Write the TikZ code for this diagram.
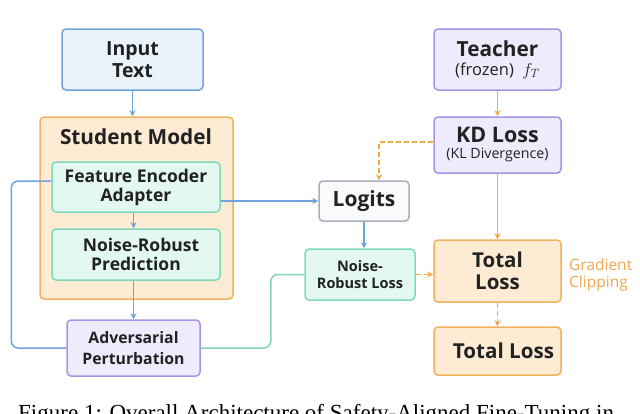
\documentclass[tikz,border=0pt]{standalone}
\usepackage{fontspec}
\setmainfont{Open Sans}
\newfontfamily\capfont{Liberation Serif}
\usetikzlibrary{arrows.meta,calc}
\definecolor{txt}{HTML}{222222}
\definecolor{bluebd}{HTML}{6FA3DC}
\definecolor{bluefl}{HTML}{EAF2FC}
\definecolor{orgbd}{HTML}{F0B25E}
\definecolor{orgfl}{HTML}{FDEBD3}
\definecolor{tealbd}{HTML}{80D9B8}
\definecolor{tealfl}{HTML}{E2F8F0}
\definecolor{purbd}{HTML}{A893E6}
\definecolor{purfl}{HTML}{EFEBFC}
\definecolor{graybd}{HTML}{A8AEBA}
\definecolor{grayfl}{HTML}{F9FAFC}
\definecolor{greenln}{HTML}{80D6B2}
\definecolor{orgln}{HTML}{F0A848}
\definecolor{orgtxt}{HTML}{EFA850}
\tikzset{
  box/.style={rectangle, rounded corners=4pt, line width=1.5pt, align=center, text=txt, inner sep=0pt},
  bluebox/.style={box, draw=bluebd, fill=bluefl},
  orgbox/.style={box, draw=orgbd, fill=orgfl},
  tealbox/.style={box, draw=tealbd, fill=tealfl},
  purbox/.style={box, draw=purbd, fill=purfl},
  graybox/.style={box, draw=graybd, fill=grayfl},
  arr/.style={-{Stealth[length=6pt,width=6pt]}, line width=1.5pt},
  bluearr/.style={arr, draw=bluebd},
  orgarr/.style={arr, draw=orgln},
  orgdash/.style={arr, draw=orgln, dash pattern=on 5pt off 3pt},
}
\begin{document}
\begin{tikzpicture}[x=1pt,y=-1pt]
\useasboundingbox (0,0) rectangle (640,413);
\clip (0,0) rectangle (640,413);

% left column
\node[bluebox, minimum width=141pt, minimum height=61pt, font=\fontsize{19.5}{22}\selectfont\bfseries] (input) at (132.5,59.5)
  {Input\\Text};
\node[orgbox, minimum width=193pt, minimum height=182pt] (student) at (136.5,208) {};
\node[text=txt, font=\fontsize{20.8}{23}\selectfont\bfseries] (sttitle) at (136,137) {Student Model};
\node[tealbox, minimum width=168pt, minimum height=50pt, font=\fontsize{17.5}{19}\selectfont\bfseries] (fea) at (136,187) {Feature Encoder\\Adapter};
\node[tealbox, minimum width=168pt, minimum height=51pt, font=\fontsize{17.5}{19.5}\selectfont\bfseries] (nrp) at (136,254.5) {\hspace*{10pt}Noise-Robust\\Prediction};
\node[purbox, minimum width=133pt, minimum height=56pt, font=\fontsize{15.8}{21}\selectfont\bfseries] (adv) at (133.5,348) {Adversarial\\Perturbation};

% middle
\node[graybox, minimum width=90pt, minimum height=40pt, font=\fontsize{21}{23}\selectfont\bfseries] (logits) at (364,201) {Logits};
\node[tealbox, minimum width=110pt, minimum height=51pt, font=\fontsize{14.5}{17}\selectfont\bfseries] (nrl) at (360,274.5) {Noise-\\Robust Loss};

% right column
\node[purbox, minimum width=127pt, minimum height=61pt] (teacher) at (497.5,59.5)
  {{\fontsize{20.8}{22}\selectfont\bfseries Teacher}\\[5pt]{\fontsize{16.5}{18}\selectfont (frozen)~ $f_T$}};
\node[purbox, minimum width=127pt, minimum height=56pt] (kd) at (497.5,145)
  {{\fontsize{21.5}{23}\selectfont\bfseries KD Loss}\\[4pt]{\fontsize{14.2}{16}\selectfont (KL Divergence)}};
\node[orgbox, minimum width=127pt, minimum height=62pt, font=\fontsize{20.5}{22}\selectfont\bfseries] (total) at (497.5,271) {Total\\Loss};
\node[orgbox, minimum width=127pt, minimum height=48pt, font=\fontsize{20.6}{22}\selectfont\bfseries] (total2) at (497.5,351) {\hspace*{12pt}Total Loss};
\node[anchor=west, align=left, text=orgtxt, font=\fontsize{15.5}{17}\selectfont, inner sep=0pt] (grad) at (569,275) {Gradient\\Clipping};

% connectors
\draw[bluearr] (input.south) -- (input.south |- student.north);
\draw[bluearr] (adv.north |- fea.south) -- (adv.north |- nrp.north);
\draw[bluearr] (adv.north |- nrp.south) -- (adv.north);
\draw[line width=1.5pt, draw=bluebd, rounded corners=7pt] ([yshift=6pt]fea.west) -- ++(-40,0) |- (adv.west);
\draw[bluearr] (fea.east |- logits.west) -- (logits.west);
\draw[bluearr] (logits.south) -- (logits.south |- nrl.north);
\draw[line width=1.5pt, draw=greenln, rounded corners=7pt] (adv.east) -- ++(70,0) |- (nrl.west);
\draw[orgdash] (nrl.east) -- (nrl.east -| total.west);
\draw[orgarr] (teacher.south) -- (kd.north);
\coordinate (kdl) at ([yshift=3pt]kd.west);
\draw[orgdash] (kdl) -| ([xshift=15pt]logits.north);
\draw[orgarr] (kd.south) -- (total.north);
\draw[orgdash] (total.south) -- (total2.north);

% caption (clipped at the lower edge, as in the reference)
\node[anchor=base west, inner sep=0pt, text=black, font=\capfont\fontsize{23}{26}\selectfont] (cap) at (18,420) {Figure 1: Overall Architecture of Safety-Aligned Fine-Tuning in};
\end{tikzpicture}
\end{document}
